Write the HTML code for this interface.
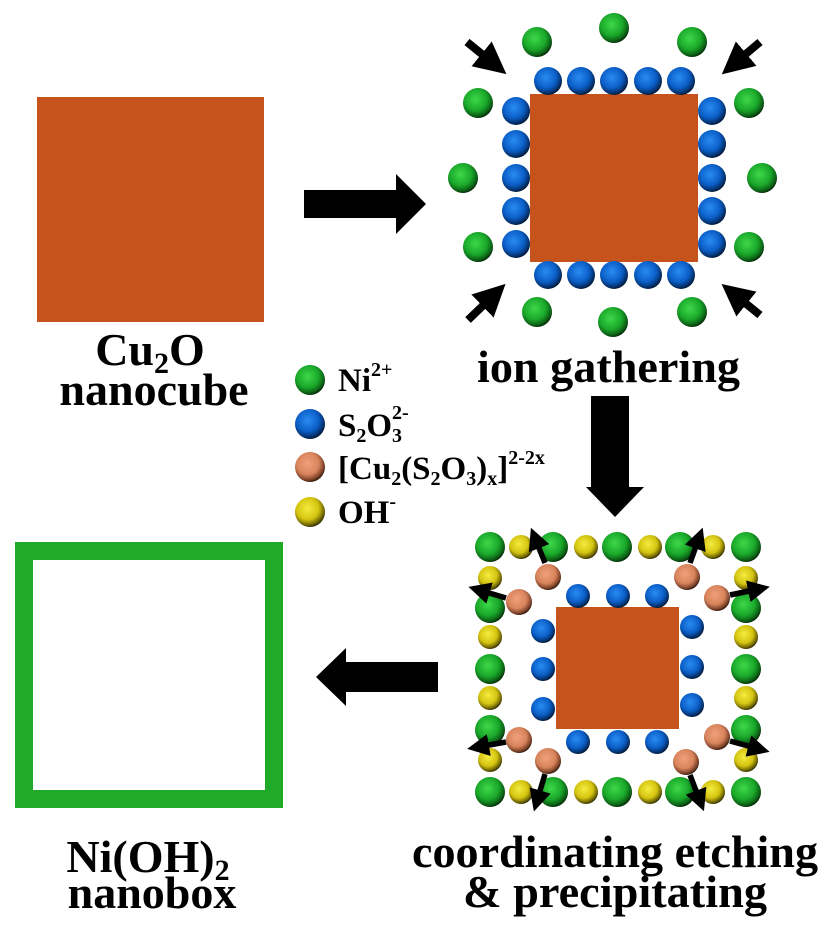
<!DOCTYPE html>
<html><head><meta charset="utf-8"><style>html,body{margin:0;padding:0;background:#fff}svg{display:block}
text{font-family:"Liberation Serif",serif;font-weight:bold;fill:#000}</style></head><body>
<svg width="827" height="930" viewBox="0 0 827 930" xmlns="http://www.w3.org/2000/svg">
<defs>
<radialGradient id="g" cx="0.42" cy="0.38" r="0.62"><stop offset="0" stop-color="#3ed84a"/><stop offset="0.6" stop-color="#1aa82a"/><stop offset="0.9" stop-color="#0b5e14"/><stop offset="1" stop-color="#062f0a"/></radialGradient>
<radialGradient id="b" cx="0.42" cy="0.38" r="0.62"><stop offset="0" stop-color="#2a8cf0"/><stop offset="0.6" stop-color="#0b5fc8"/><stop offset="0.9" stop-color="#04306a"/><stop offset="1" stop-color="#021a3a"/></radialGradient>
<radialGradient id="o" cx="0.42" cy="0.38" r="0.62"><stop offset="0" stop-color="#f0a07a"/><stop offset="0.6" stop-color="#d8845c"/><stop offset="0.9" stop-color="#7a4028"/><stop offset="1" stop-color="#3a1e10"/></radialGradient>
<radialGradient id="y" cx="0.42" cy="0.38" r="0.62"><stop offset="0" stop-color="#f4ec40"/><stop offset="0.6" stop-color="#d4c410"/><stop offset="0.9" stop-color="#6e6404"/><stop offset="1" stop-color="#3a3402"/></radialGradient>
<marker id="ah" markerWidth="4" markerHeight="4" refX="2" refY="2" orient="auto" markerUnits="strokeWidth"><path d="M0,0 L4,2 L0,4 z" fill="#000"/></marker>
</defs>

<rect x="37" y="97" width="227" height="225" fill="#c5531b"/>
<text x="150" y="365" font-size="46" text-anchor="middle">Cu<tspan font-size="30" dy="8">2</tspan><tspan dy="-8">O</tspan></text>
<text x="154" y="405" font-size="46" text-anchor="middle">nanocube</text>

<path d="M304,190 H396 V174 L426,204 L396,234 V218 H304 z" fill="#000"/>

<rect x="530" y="94" width="168" height="168" fill="#c5531b"/>
<g fill="url(#b)">
<circle cx="548" cy="81" r="14"/><circle cx="581" cy="81" r="14"/><circle cx="614" cy="81" r="14"/><circle cx="648" cy="81" r="14"/><circle cx="681" cy="81" r="14"/>
<circle cx="548" cy="275" r="14"/><circle cx="581" cy="275" r="14"/><circle cx="614" cy="275" r="14"/><circle cx="648" cy="275" r="14"/><circle cx="681" cy="275" r="14"/>
<circle cx="516" cy="111" r="14"/><circle cx="516" cy="144" r="14"/><circle cx="516" cy="178" r="14"/><circle cx="516" cy="211" r="14"/><circle cx="516" cy="244" r="14"/>
<circle cx="712" cy="111" r="14"/><circle cx="712" cy="144" r="14"/><circle cx="712" cy="178" r="14"/><circle cx="712" cy="211" r="14"/><circle cx="712" cy="244" r="14"/>
</g>
<g fill="url(#g)">
<circle cx="614" cy="28" r="15"/><circle cx="537" cy="42" r="15"/><circle cx="692" cy="42" r="15"/>
<circle cx="478" cy="103" r="15"/><circle cx="749" cy="103" r="15"/><circle cx="463" cy="178" r="15"/><circle cx="762" cy="178" r="15"/>
<circle cx="478" cy="247" r="15"/><circle cx="749" cy="247" r="15"/>
<circle cx="537" cy="312" r="15"/><circle cx="613" cy="322" r="15"/><circle cx="692" cy="312" r="15"/>
</g>
<g stroke="#000" stroke-width="8" marker-end="url(#ah)">
<line x1="467" y1="42" x2="494" y2="64"/><line x1="760" y1="42" x2="734" y2="64"/>
<line x1="468" y1="320" x2="494" y2="295"/><line x1="760" y1="315" x2="734" y2="294"/>
</g>
<text x="477" y="382" font-size="46" textLength="263" lengthAdjust="spacingAndGlyphs">ion gathering</text>

<path d="M591,396 H629 V487 H644 L615,517 L586,487 H591 z" fill="#000"/>

<circle cx="310" cy="380" r="15" fill="url(#g)"/>
<circle cx="310" cy="424" r="15" fill="url(#b)"/>
<circle cx="310" cy="467" r="15" fill="url(#o)"/>
<circle cx="310" cy="512" r="15" fill="url(#y)"/>
<g font-size="33">
<text x="338" y="391">Ni<tspan font-size="20" dy="-15">2+</tspan></text>
<text x="338" y="436">S<tspan font-size="20" dy="6">2</tspan><tspan dy="-6">O</tspan><tspan font-size="20" dy="6">3</tspan><tspan font-size="20" dx="-10" dy="-23">2-</tspan></text>
<text x="338" y="479">[Cu<tspan font-size="20" dy="6">2</tspan><tspan dy="-6">(S</tspan><tspan font-size="20" dy="6">2</tspan><tspan dy="-6">O</tspan><tspan font-size="20" dy="6">3</tspan><tspan dy="-6">)</tspan><tspan font-size="20" dy="6">x</tspan><tspan dy="-6">]</tspan><tspan font-size="20" dy="-15">2-2x</tspan></text>
<text x="338" y="523">OH<tspan font-size="20" dy="-15">-</tspan></text>
</g>

<rect x="556" y="607" width="123" height="122" fill="#c5531b"/>
<g fill="url(#b)">
<circle cx="578" cy="596" r="12"/><circle cx="618" cy="596" r="12"/><circle cx="657" cy="596" r="12"/>
<circle cx="578" cy="742" r="12"/><circle cx="618" cy="742" r="12"/><circle cx="657" cy="742" r="12"/>
<circle cx="543" cy="631" r="12"/><circle cx="543" cy="669" r="12"/><circle cx="543" cy="709" r="12"/>
<circle cx="692" cy="627" r="12"/><circle cx="692" cy="667" r="12"/><circle cx="692" cy="705" r="12"/>
</g>
<g fill="url(#y)">
<circle cx="521" cy="547" r="12"/><circle cx="586" cy="547" r="12"/><circle cx="650" cy="547" r="12"/><circle cx="713" cy="547" r="12"/>
<circle cx="521" cy="792" r="12"/><circle cx="586" cy="792" r="12"/><circle cx="650" cy="792" r="12"/><circle cx="713" cy="792" r="12"/>
<circle cx="490" cy="578" r="12"/><circle cx="490" cy="637" r="12"/><circle cx="490" cy="698" r="12"/><circle cx="490" cy="760" r="12"/>
<circle cx="746" cy="578" r="12"/><circle cx="746" cy="637" r="12"/><circle cx="746" cy="698" r="12"/><circle cx="746" cy="760" r="12"/>
</g>
<g fill="url(#g)">
<circle cx="490" cy="547" r="15"/><circle cx="553" cy="547" r="15"/><circle cx="617" cy="547" r="15"/><circle cx="680" cy="547" r="15"/><circle cx="746" cy="547" r="15"/>
<circle cx="490" cy="792" r="15"/><circle cx="553" cy="792" r="15"/><circle cx="617" cy="792" r="15"/><circle cx="680" cy="792" r="15"/><circle cx="746" cy="792" r="15"/>
<circle cx="490" cy="608" r="15"/><circle cx="490" cy="669" r="15"/><circle cx="490" cy="730" r="15"/>
<circle cx="746" cy="608" r="15"/><circle cx="746" cy="669" r="15"/><circle cx="746" cy="730" r="15"/>
</g>
<g fill="url(#o)">
<circle cx="548" cy="577" r="13"/><circle cx="687" cy="577" r="13"/><circle cx="519" cy="602" r="13"/><circle cx="717" cy="598" r="13"/>
<circle cx="519" cy="740" r="13"/><circle cx="717" cy="737" r="13"/><circle cx="548" cy="761" r="13"/><circle cx="686" cy="762" r="13"/>
</g>
<g stroke="#000" stroke-width="5.5" marker-end="url(#ah)">
<line x1="545" y1="563" x2="535" y2="538"/><line x1="690" y1="563" x2="699" y2="538"/>
<line x1="506" y1="598" x2="479" y2="590"/><line x1="730" y1="595" x2="759" y2="589"/>
<line x1="506" y1="742" x2="478" y2="747"/><line x1="730" y1="741" x2="759" y2="749"/>
<line x1="545" y1="774" x2="537" y2="801"/><line x1="690" y1="775" x2="700" y2="801"/>
</g>
<text x="412" y="867" font-size="46" textLength="406" lengthAdjust="spacingAndGlyphs">coordinating etching</text>
<text x="463" y="907" font-size="46" textLength="304" lengthAdjust="spacingAndGlyphs">&amp; precipitating</text>

<path d="M438,662 H346 V648 L316,677 L346,706 V692 H438 z" fill="#000"/>

<rect x="24" y="551" width="250" height="248" fill="none" stroke="#1fab27" stroke-width="18"/>
<text x="148" y="872" font-size="46" text-anchor="middle">Ni(OH)<tspan font-size="30" dy="8">2</tspan></text>
<text x="152" y="908" font-size="46" text-anchor="middle">nanobox</text>
</svg>
</body></html>
